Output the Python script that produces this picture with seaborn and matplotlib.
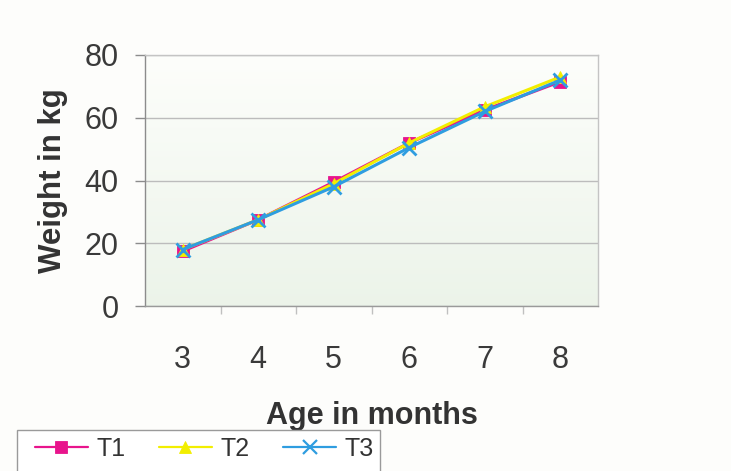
import numpy as np
import pandas as pd
import matplotlib
matplotlib.use("Agg")
import matplotlib.pyplot as plt
import seaborn as sns

# Live weight (kg) of three treatment groups by age
months = [3, 4, 5, 6, 7, 8]
t1 = [17.5, 27.5, 39.5, 52.0, 62.5, 71.5]
t2 = [18.0, 27.5, 39.0, 52.0, 63.5, 73.0]
t3 = [18.0, 27.5, 38.0, 50.5, 62.0, 72.0]
groups = ["T1", "T2", "T3"]
y_ticks = [0, 20, 40, 60, 80]

df = pd.DataFrame({
    "month": months * 3,
    "weight": t1 + t2 + t3,
    "group": [g for g in groups for _ in months],
})

sns.set_theme(style="white")
plt.rcParams["font.family"] = ["Liberation Sans", "DejaVu Sans"]

palette = {"T1": "#e8148c", "T2": "#f2ee00", "T3": "#2f9de0"}
markers = {"T1": "s", "T2": "^", "T3": "X"}

fig = plt.figure(figsize=(7.31, 4.71), dpi=100)
fig.patch.set_facecolor("#fdfdfb")
ax = fig.add_axes([145 / 731, 1 - 306 / 471, 453 / 731, 251 / 471])

# pale green gradient in the plotting area
grad = np.linspace(0, 1, 256).reshape(-1, 1)
top = np.array([0.992, 0.996, 0.985])
bot = np.array([0.925, 0.955, 0.915])
img = top + (bot - top) * grad[..., None] * np.ones((1, 2, 1))
ax.imshow(img, extent=[0, 1, 0, 1], transform=ax.transAxes,
          aspect="auto", zorder=0, origin="upper")

sns.lineplot(data=df, x="month", y="weight", hue="group", style="group",
             palette=palette, markers=markers, dashes=False,
             markersize=9, linewidth=2.2, markeredgewidth=0.6,
             ax=ax, legend=False, zorder=3)
for ln, g in zip(ax.lines, groups):
    ln.set_markeredgecolor(palette[g])
    if g == "T3":
        ln.set_marker("x")
        ln.set_markeredgewidth(2.0)
        ln.set_markersize(10)

ax.set_xlim(2.5, 8.5)
ax.set_ylim(0, 80)
ax.set_xticks(months)
ax.set_yticks(y_ticks)
ax.yaxis.grid(True, color="#bcbcbc", linewidth=1.0)
ax.set_axisbelow(True)
for s in ax.spines.values():
    s.set_color("#c4c4c4")
    s.set_linewidth(1.0)
ax.spines["left"].set_color("#8c8c8c")
ax.spines["bottom"].set_color("#9a9a9a")

ax.tick_params(axis="both", labelsize=22, labelcolor="#3a3a3a")
ax.tick_params(axis="x", which="major", length=0, pad=28)
ax.tick_params(axis="y", which="major", length=7, width=1.0,
               direction="out", color="#8c8c8c", pad=12, left=True)
ax.set_xticks([3.5, 4.5, 5.5, 6.5, 7.5], minor=True)
ax.tick_params(axis="x", which="minor", length=6, direction="out",
               color="#c0c0c0", bottom=True)

ax.set_xlabel("Age in months", fontsize=22, fontweight="bold",
              color="#333333", labelpad=19)
ax.set_ylabel("Weight in kg", fontsize=22.5, fontweight="bold",
              color="#333333", labelpad=12)

# legend box runs off the bottom edge of the figure
box = plt.Rectangle((17 / 731, -0.05), (380 - 17) / 731,
                    1 - 430 / 471 + 0.05, transform=fig.transFigure,
                    facecolor="#ffffff", edgecolor="#9a9a9a",
                    linewidth=1.0, zorder=1)
fig.add_artist(box)

handles = []
for g in groups:
    h, = ax.plot([], [], color=palette[g], linewidth=1.6,
                 marker="x" if g == "T3" else markers[g],
                 markersize=9 if g != "T3" else 10,
                 markeredgewidth=1.6 if g == "T3" else 0.6,
                 markeredgecolor=palette[g])
    handles.append(h)
leg = fig.legend(handles, groups, loc="center left", ncol=3,
                 bbox_to_anchor=(35 / 731, 1 - 449 / 471), fontsize=18,
                 frameon=False, handlelength=2.1,
                 columnspacing=1.35, handletextpad=0.35,
                 borderpad=0, borderaxespad=0, labelcolor="#333333")
leg.set_zorder(2)

fig.savefig("out.png", dpi=100, facecolor=fig.get_facecolor())
